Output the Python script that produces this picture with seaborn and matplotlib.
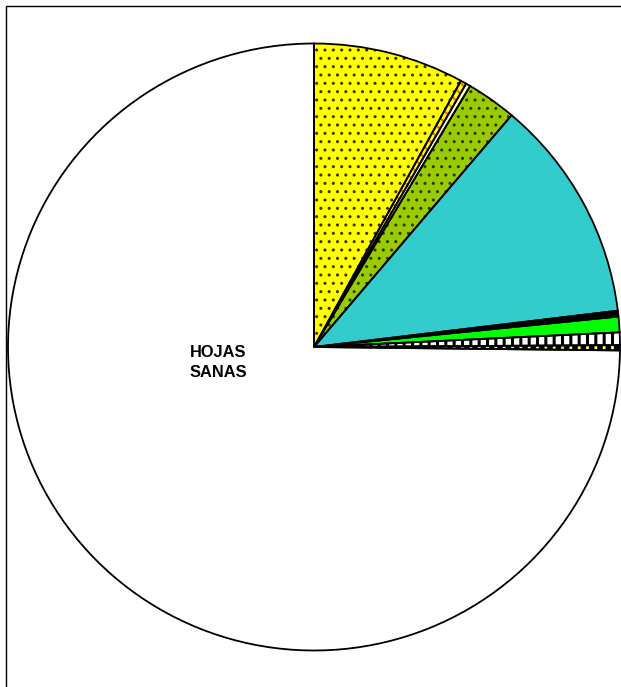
import matplotlib
matplotlib.use("Agg")
import matplotlib.pyplot as plt
from matplotlib.patches import Rectangle
import seaborn as sns

# --- datos (porcentaje de hojas por categoría, sentido horario desde arriba) ---
categorias = ["Cat. 1", "Cat. 2", "Cat. 3", "Cat. 4", "Cat. 5",
              "Cat. 6", "Cat. 7", "Cat. 8", "Cat. 9", "HOJAS\nSANAS"]
valores = [7.97, 0.31, 0.24, 2.65, 11.92, 0.31, 0.83, 0.67, 0.28, 74.82]
etiquetas = ["", "", "", "", "", "", "", "", "", "HOJAS\nSANAS"]

colores = ["#FFFF00", "#FFFF00", "#FFFFCC", "#99CC00", "#33CCCC",
           "#000000", "#00FF00", "#FFFFFF", "#000000", "#FFFFFF"]
tramas = ["..", "\\\\\\", "", "..", "", "", "", "||", "||", ""]
color_trama = ["#333300", "#FF6600", "black", "#333300", "black",
               "black", "black", "black", "#FFFF66", "black"]
grosor_trama = [1.0, 1.5, 1.0, 1.0, 1.0, 1.0, 1.0, 2.2, 2.0, 1.0]

sns.set_theme(style="white")
plt.rcParams["font.family"] = ["Liberation Sans", "DejaVu Sans"]
plt.rcParams["hatch.linewidth"] = 1.0

fig = plt.figure(figsize=(6.21, 6.87), dpi=100)
fig.patch.set_facecolor("white")

# marco exterior (cortado a la derecha y abajo)
fig.patches.append(Rectangle((6 / 621, -0.1), 1.2, 1.1 - 6 / 687, transform=fig.transFigure,
                             fill=False, edgecolor="black", linewidth=1.0))

ax = fig.add_axes([8 / 621, (687 - 347 - 303.5) / 687, 612 / 621, 607 / 687])

# relleno + tramas
wedges, _ = ax.pie(valores, colors=colores, startangle=90, counterclock=False,
                   radius=1, labels=None,
                   wedgeprops={"linewidth": 0})
for w, h, hc, hl in zip(wedges, tramas, color_trama, grosor_trama):
    if h:
        w.set_hatch(h)
        w.set_edgecolor(hc)
        if hasattr(w, "set_hatch_linewidth"):
            w.set_hatch_linewidth(hl)
        else:
            w._hatch_linewidth = hl

# contornos negros
ax.pie(valores, colors=["none"] * len(valores), startangle=90, counterclock=False,
       radius=1, wedgeprops={"linewidth": 1.3, "edgecolor": "black", "fill": False})

ax.set_aspect("auto")
ax.set_xlim(-1, 1)
ax.set_ylim(-1, 1)
ax.axis("off")

ax.text(-0.314, -0.052, etiquetas[-1], ha="center", va="center",
        fontsize=11.8, fontweight="bold", color="black", linespacing=1.45)

fig.savefig("out.png", dpi=100)
